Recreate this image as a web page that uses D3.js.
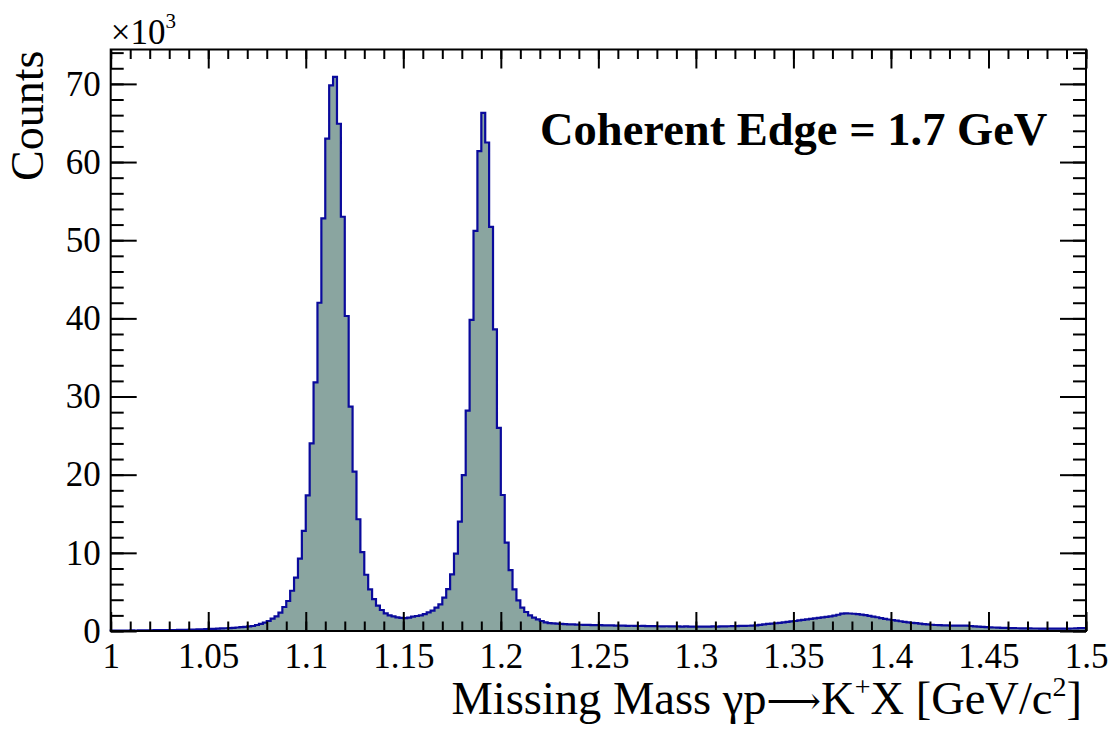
<!DOCTYPE html>
<html>
<head>
<meta charset="utf-8">
<script src="https://cdn.jsdelivr.net/npm/d3@7"></script>
<style>
body { margin: 0; background: #fff; }
svg text { font-family: "Liberation Serif", "Times New Roman", serif; fill: #000; }
</style>
</head>
<body>
<div id="chart-area"></div>
<script>
// SVG size and plot frame
var width = 1110,
	height = 738;
var margin = {top: 49.5, right: 24, bottom: 107, left: 110.7};

// histogram binning: 250 bins of 2 MeV
var xLow = 1.0, xHigh = 1.5, nBins = 250;
var binWidth = (xHigh - xLow) / nBins;

// counts per bin, in units of 10^3
var counts = [
	0.05, 0.04, 0.06, 0.05, 0.06, 0.07, 0.06, 0.08, 0.07, 0.09,
	0.09, 0.10, 0.10, 0.11, 0.12, 0.12, 0.13, 0.14, 0.15, 0.16,
	0.17, 0.19, 0.20, 0.22, 0.24, 0.26, 0.28, 0.30, 0.33, 0.35,
	0.38, 0.41, 0.45, 0.49, 0.53, 0.58, 0.64, 0.77, 0.90, 1.06,
	1.28, 1.58, 1.88, 2.35, 3.07, 3.84, 5.15, 6.82, 9.25, 12.8,
	17.35, 24.0, 31.8, 42.0, 52.8, 63.0, 69.8, 70.9, 64.9, 53.0,
	40.3, 28.7, 20.4, 14.3, 10.1, 7.2, 5.33, 4.09, 3.24, 2.69,
	2.26, 2.0, 1.88, 1.75, 1.69, 1.66, 1.72, 1.84, 1.92, 2.0,
	2.17, 2.39, 2.6, 2.98, 3.41, 4.26, 5.37, 7.25, 9.89, 14.0,
	19.95, 28.2, 39.8, 51.2, 61.4, 66.3, 62.5, 51.7, 38.6, 26.0,
	17.4, 11.3, 7.8, 5.33, 3.92, 2.98, 2.43, 2.0, 1.70, 1.49,
	1.28, 1.11, 1.02, 0.98, 0.94, 0.90, 0.88, 0.85, 0.84, 0.81,
	0.80, 0.78, 0.78, 0.76, 0.74, 0.74, 0.72, 0.71, 0.71, 0.69,
	0.68, 0.68, 0.66, 0.67, 0.65, 0.64, 0.65, 0.63, 0.62, 0.63,
	0.61, 0.60, 0.61, 0.59, 0.60, 0.58, 0.57, 0.58, 0.56, 0.57,
	0.56, 0.55, 0.57, 0.56, 0.58, 0.57, 0.59, 0.60, 0.61, 0.62,
	0.63, 0.65, 0.66, 0.67, 0.69, 0.72, 0.78, 0.84, 0.90, 0.95,
	0.99, 1.04, 1.10, 1.16, 1.22, 1.28, 1.35, 1.42, 1.48, 1.55,
	1.62, 1.68, 1.74, 1.80, 1.88, 1.97, 2.08, 2.22, 2.26, 2.24,
	2.21, 2.17, 2.10, 2.02, 1.93, 1.85, 1.76, 1.66, 1.56, 1.47,
	1.39, 1.32, 1.25, 1.18, 1.11, 1.05, 1.00, 0.95, 0.89, 0.85,
	0.80, 0.77, 0.74, 0.72, 0.71, 0.70, 0.70, 0.69, 0.68, 0.68,
	0.64, 0.60, 0.56, 0.52, 0.49, 0.47, 0.45, 0.43, 0.41, 0.39,
	0.37, 0.36, 0.35, 0.34, 0.33, 0.33, 0.32, 0.32, 0.31, 0.31,
	0.30, 0.30, 0.31, 0.30, 0.30, 0.31, 0.32, 0.34, 0.36, 0.38
];

// axis ticks
var xTicks = [1, 1.05, 1.1, 1.15, 1.2, 1.25, 1.3, 1.35, 1.4, 1.45, 1.5];
var xMinorTicks = d3.range(0, 51).map(function(i){ return 1 + i * 0.01; });
var yTicks = [0, 10, 20, 30, 40, 50, 60, 70];
var yMinorTicks = d3.range(0, 38).map(function(i){ return i * 2; });
var yMax = 74.4;

var svg = d3.select("#chart-area")
	.append("svg")
	.attr("width", width)
	.attr("height", height);

var x = d3.scaleLinear()
	.domain([xLow, xHigh])
	.range([margin.left, width - margin.right]);

var y = d3.scaleLinear()
	.domain([0, yMax])
	.range([height - margin.bottom, margin.top]);

// histogram outline points (step shape)
var pts = [[xLow, 0]];
counts.forEach(function(c, i){
	pts.push([xLow + i * binWidth, c]);
});
pts.push([xHigh, counts[nBins - 1]]);
pts.push([xHigh, 0]);

var area = d3.area()
	.x(function(d){ return x(d[0]); })
	.y0(y(0))
	.y1(function(d){ return y(d[1]); })
	.curve(d3.curveStepAfter);

var line = d3.line()
	.x(function(d){ return x(d[0]); })
	.y(function(d){ return y(d[1]); })
	.curve(d3.curveStepAfter);

svg.append("path")
	.datum(pts)
	.attr("d", area)
	.attr("fill", "#8aa5a0");

svg.append("path")
	.datum(pts)
	.attr("d", line)
	.attr("fill", "none")
	.attr("stroke", "#0a0a9c")
	.attr("stroke-width", 2.2)
	.attr("stroke-linejoin", "miter");

// axes: ticks pointing inside, mirrored on top/right
function styleAxis(g, fontSize) {
	g.attr("font-family", "Liberation Serif, Times New Roman, serif")
		.attr("font-size", fontSize);
	g.selectAll("line").attr("stroke", "#000").attr("stroke-width", 2);
	g.select(".domain").remove();
}

var y0 = y(0), yTop = y(yMax), xL = x(xLow), xR = x(xHigh);

svg.append("g")
	.attr("transform", "translate(0," + y0 + ")")
	.call(d3.axisBottom(x).tickValues(xMinorTicks).tickSize(-9.5).tickFormat(""))
	.call(styleAxis, 35);

svg.append("g")
	.attr("transform", "translate(0," + y0 + ")")
	.call(d3.axisBottom(x).tickValues(xTicks).tickSize(-19).tickPadding(12)
		.tickFormat(function(d){ return String(+d.toFixed(2)); }))
	.call(styleAxis, 35);

svg.append("g")
	.attr("transform", "translate(0," + yTop + ")")
	.call(d3.axisTop(x).tickValues(xMinorTicks).tickSize(-9.5).tickFormat(""))
	.call(styleAxis, 35);

svg.append("g")
	.attr("transform", "translate(0," + yTop + ")")
	.call(d3.axisTop(x).tickValues(xTicks).tickSize(-19).tickFormat(""))
	.call(styleAxis, 35);

svg.append("g")
	.attr("transform", "translate(" + xL + ",0)")
	.call(d3.axisLeft(y).tickValues(yMinorTicks).tickSize(-13).tickFormat(""))
	.call(styleAxis, 35);

svg.append("g")
	.attr("transform", "translate(" + xL + ",0)")
	.call(d3.axisLeft(y).tickValues(yTicks).tickSize(-26).tickPadding(10))
	.call(styleAxis, 35);

svg.append("g")
	.attr("transform", "translate(" + xR + ",0)")
	.call(d3.axisRight(y).tickValues(yMinorTicks).tickSize(-13).tickFormat(""))
	.call(styleAxis, 35);

svg.append("g")
	.attr("transform", "translate(" + xR + ",0)")
	.call(d3.axisRight(y).tickValues(yTicks).tickSize(-26).tickFormat(""))
	.call(styleAxis, 35);

// frame
svg.append("rect")
	.attr("x", xL)
	.attr("y", yTop)
	.attr("width", xR - xL)
	.attr("height", y0 - yTop)
	.attr("fill", "none")
	.attr("stroke", "#000")
	.attr("stroke-width", 2);

// exponent label
var expo = svg.append("text")
	.attr("x", xL)
	.attr("y", 44)
	.style("font-size", "35px");
expo.append("tspan").text("\u00d710");
expo.append("tspan").attr("dy", -16).style("font-size", "21px").text("3");

// y title
svg.append("text")
	.attr("transform", "translate(43," + (yTop + 1) + ") rotate(-90)")
	.attr("text-anchor", "end")
	.style("font-size", "46px")
	.text("Counts");

// x title
var xt = svg.append("text")
	.attr("x", 1082)
	.attr("y", 714)
	.attr("text-anchor", "end")
	.style("font-size", "46.5px");
xt.append("tspan").text("Missing Mass \u03b3p");
xt.append("tspan")
	.style("font-family", "'DejaVu Serif', 'DejaVu Sans', serif")
	.style("font-size", "38px")
	.text("\u27f6");
xt.append("tspan").text("K");
xt.append("tspan").attr("dy", -18).style("font-size", "28px").text("+");
xt.append("tspan").attr("dy", 18).text("X [GeV/c");
xt.append("tspan").attr("dy", -18).style("font-size", "28px").text("2");
xt.append("tspan").attr("dy", 18).text("]");

// annotation
svg.append("text")
	.attr("x", 540)
	.attr("y", 145)
	.style("font-size", "46.5px")
	.style("font-weight", "bold")
	.text("Coherent Edge = 1.7 GeV");
</script>
</body>
</html>
